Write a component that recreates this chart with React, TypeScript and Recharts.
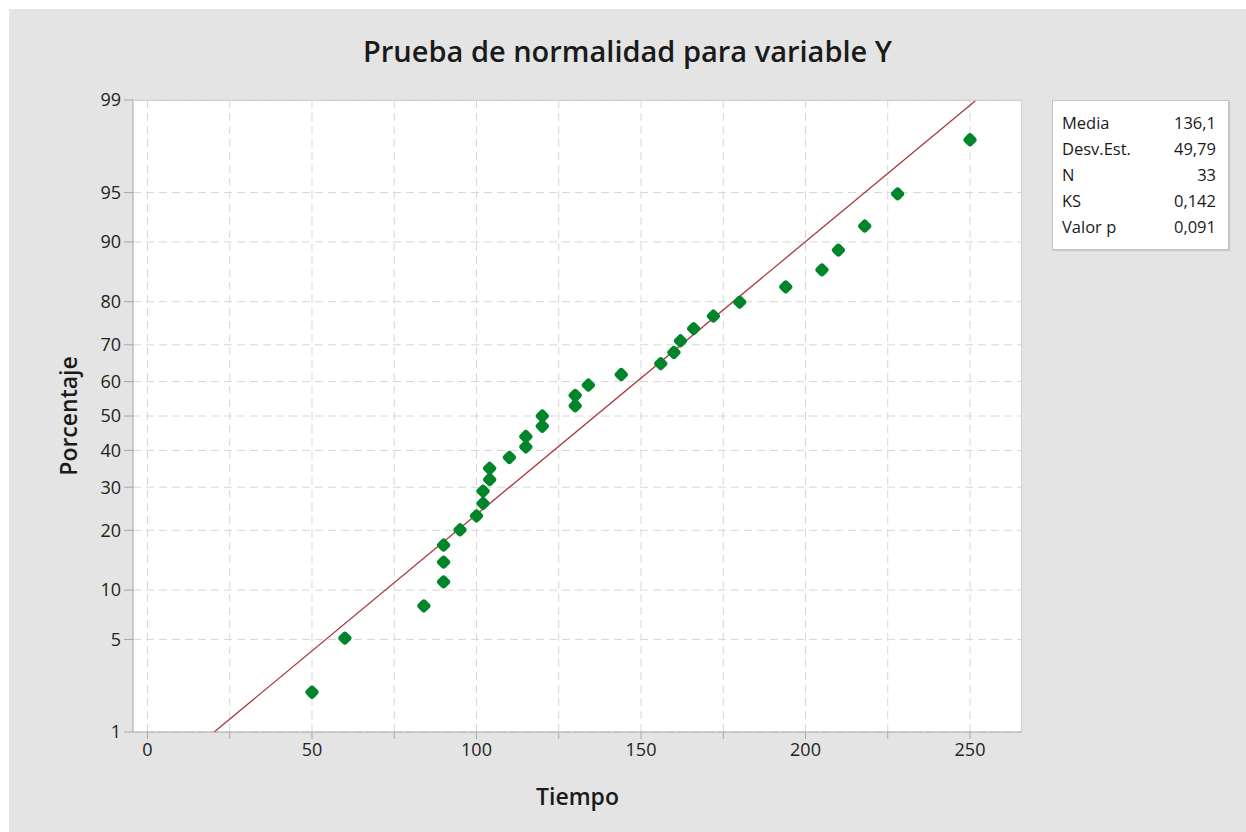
import React from 'react';
import { ScatterChart, Scatter, XAxis, YAxis, CartesianGrid, ReferenceLine } from 'recharts';

// valores (orden ascendente)
const tiempo = [50, 60, 84, 90, 90, 90, 95, 100, 102, 102, 104, 104, 110, 115, 115, 120, 120, 130, 130, 134, 144, 156, 160, 162, 166, 172, 180, 194, 205, 210, 218, 228, 250];
const porcentaje = [2.1, 5.1, 8.1, 11.1, 14.1, 17.1, 20.1, 23.1, 26.0, 29.0, 32.0, 35.0, 38.0, 41.0, 44.0, 47.0, 50.0, 53.0, 56.0, 59.0, 62.0, 65.0, 68.0, 71.0, 74.0, 76.9, 79.9, 82.9, 85.9, 88.9, 91.9, 94.9, 97.9];

const yTickLabels = [1, 5, 10, 20, 30, 40, 50, 60, 70, 80, 90, 95, 99];
const xTicks = [0, 25, 50, 75, 100, 125, 150, 175, 200, 225, 250];

const media = 136.1;
const desvEst = 49.79;

const statNames = ['Media', 'Desv.Est.', 'N', 'KS', 'Valor p'];
const statValues = ['136,1', '49,79', '33', '0,142', '0,091'];

// inversa de la normal estandar (Acklam)
const probit = (p: number) => {
    const a = [-39.69683028665376, 220.9460984245205, -275.9285104469687, 138.357751867269, -30.66479806614716, 2.506628277459239];
    const b = [-54.47609879822406, 161.5858368580409, -155.6989798598866, 66.80131188771972, -13.28068155288572];
    const c = [-0.007784894002430293, -0.3223964580411365, -2.400758277161838, -2.549732539343734, 4.374664141464968, 2.938163982698783];
    const d = [0.007784695709041462, 0.3224671290700398, 2.445134137142996, 3.754408661907416];
    const pl = 0.02425;
    if (p < pl) {
        const q = Math.sqrt(-2 * Math.log(p));
        return (((((c[0] * q + c[1]) * q + c[2]) * q + c[3]) * q + c[4]) * q + c[5]) / ((((d[0] * q + d[1]) * q + d[2]) * q + d[3]) * q + 1);
    }
    if (p > 1 - pl) {
        const q = Math.sqrt(-2 * Math.log(1 - p));
        return -(((((c[0] * q + c[1]) * q + c[2]) * q + c[3]) * q + c[4]) * q + c[5]) / ((((d[0] * q + d[1]) * q + d[2]) * q + d[3]) * q + 1);
    }
    const q = p - 0.5;
    const r = q * q;
    return (((((a[0] * r + a[1]) * r + a[2]) * r + a[3]) * r + a[4]) * r + a[5]) * q / (((((b[0] * r + b[1]) * r + b[2]) * r + b[3]) * r + b[4]) * r + 1);
};

const points = tiempo.map((t, i) => ({ x: t, z: probit(porcentaje[i] / 100) }));
const yTicks = yTickLabels.map(v => probit(v / 100));
const zMin = yTicks[0];
const zMax = yTicks[yTicks.length - 1];

const FONT = '"Open Sans", "Noto Sans", sans-serif';
const GREEN = '#00852b';

const Marker = (props: any) => {
    const { cx, cy } = props;
    if (cx == null || cy == null) return null;
    return (
        <rect x={cx - 5.5} y={cy - 5.5} width={11} height={11} rx={3} ry={3} fill={GREEN}
            transform={`rotate(45 ${cx} ${cy})`} />
    );
};

const App: React.FC = () => {
    const W = 1237;
    const H = 823;
    // area de trazado: left 124, top 91, right 1013, bottom 723 (relativo)
    return (
        <div style={{ position: 'absolute', left: 9, top: 9, width: W, height: H, background: '#e4e4e4', fontFamily: FONT }}>
            <div style={{ position: 'absolute', left: 0, width: W, top: 22, textAlign: 'center', fontSize: 29, fontWeight: 600, color: '#1a1a1a' }}>
                Prueba de normalidad para variable Y
            </div>
            <ScatterChart width={W} height={H} margin={{ top: 91, right: 224, bottom: 60, left: 64 }}>
                <CartesianGrid fill="#ffffff" stroke="#d6d6d6" strokeDasharray="8 5" horizontalValues={yTicks} verticalValues={xTicks} />
                <XAxis type="number" dataKey="x" domain={[-4.4, 265.8]} ticks={xTicks} allowDataOverflow
                    tickFormatter={(v: number) => (v % 50 === 0 ? String(v) : '')}
                    height={40} tickSize={7} stroke="#a8a8a8"
                    tick={{ fill: '#222', fontSize: 18, fontFamily: FONT }} tickMargin={4} />
                <YAxis type="number" dataKey="z" domain={[zMin, zMax]} ticks={yTicks} allowDataOverflow
                    tickFormatter={(_v: number, i: number) => String(yTickLabels[i])}
                    width={60} tickSize={9} stroke="#a8a8a8"
                    tick={{ fill: '#222', fontSize: 18, fontFamily: FONT }} tickMargin={3} />
                <ReferenceLine segment={[{ x: media + desvEst * zMin, y: zMin }, { x: media + desvEst * zMax, y: zMax }]}
                    stroke="#a8383c" strokeWidth={1.3} ifOverflow="visible" />
                <Scatter data={points} shape={Marker} isAnimationActive={false} />
            </ScatterChart>
            <div style={{ position: 'absolute', left: 124, top: 91, width: 889, height: 632, borderTop: '1px solid #cfcfcf', borderRight: '1px solid #cfcfcf', boxSizing: 'border-box', pointerEvents: 'none' }} />
            <div style={{ position: 'absolute', left: 59, top: 407, transform: 'translate(-50%, -50%) rotate(-90deg)', fontSize: 23, fontWeight: 600, color: '#1a1a1a', whiteSpace: 'nowrap' }}>
                Porcentaje
            </div>
            <div style={{ position: 'absolute', left: 124, width: 889, top: 771, textAlign: 'center', fontSize: 23, fontWeight: 600, color: '#1a1a1a' }}>
                Tiempo
            </div>
            <div style={{ position: 'absolute', left: 1043, top: 91, width: 177, height: 150, background: '#fff', border: '1px solid #c4c4c4', boxShadow: '1px 1px 1px rgba(0,0,0,0.12)', boxSizing: 'border-box', padding: '9px 12px 0 9px' }}>
                {statNames.map((n, i) => (
                    <div key={n} style={{ display: 'flex', justifyContent: 'space-between', fontSize: 16.5, lineHeight: '26px', color: '#1a1a1a' }}>
                        <span>{n}</span>
                        <span>{statValues[i]}</span>
                    </div>
                ))}
            </div>
        </div>
    );
};

export default App;
